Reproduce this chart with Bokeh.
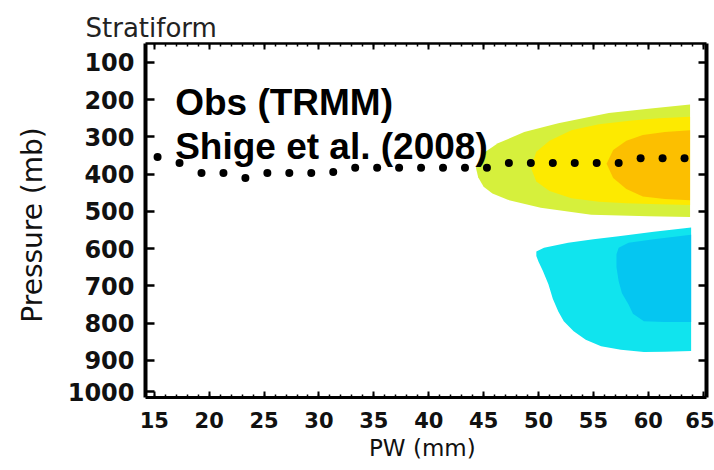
from bokeh.plotting import figure
from bokeh.models import Range1d, LinearAxis, FixedTicker, Label, CustomLabelingPolicy
from bokeh.embed import file_html
from bokeh.resources import INLINE

# Axis ticks
pw_ticks = [15, 20, 25, 30, 35, 40, 45, 50, 55, 60, 65]
pw_minor = list(range(15, 66))
p_ticks = [100, 200, 300, 400, 500, 600, 700, 800, 900, 985]
p_tick_labels = ["100", "200", "300", "400", "500", "600", "700", "800", "900", "1000"]

# Level of the heating peak in each PW bin (dotted curve)
dot_pw = [13.3, 15.3, 17.3, 19.3, 21.3, 23.3, 25.3, 27.3, 29.3, 31.3, 33.3, 35.3, 37.3,
          39.3, 41.3, 43.3, 45.3, 47.3, 49.3, 51.3, 53.3, 55.3, 57.3, 59.3, 61.3, 63.3]
dot_p = [343, 354, 370, 397, 397, 410, 397, 397, 397, 394, 383, 383, 383,
         383, 383, 383, 383, 370, 370, 370, 370, 370, 370, 357, 357, 357]

# Heating contours (outer -> inner)
heat1_pw = [44.3, 44.6, 45.0, 46.3, 48.7, 51.8, 56.4, 60.0, 63.8,
            63.8, 60.0, 54.8, 50.2, 47.2, 45.8, 45.0, 44.5]
heat1_p = [383, 360, 343, 317, 287, 263, 236, 224, 213,
           515, 513, 509, 490, 469, 452, 434, 408]
heat2_pw = [49.3, 49.8, 51.0, 53.0, 55.5, 58.5, 61.0, 63.8,
            63.8, 61.0, 58.0, 55.5, 53.0, 51.0, 49.8]
heat2_p = [383, 340, 310, 282, 266, 256, 250, 246,
           483, 481, 478, 474, 465, 445, 420]
heat3_pw = [56.2, 56.8, 58.0, 59.5, 61.5, 63.8,
            63.8, 61.5, 59.5, 58.0, 56.8]
heat3_p = [372, 335, 310, 295, 287, 282,
           470, 467, 460, 440, 410]

# Cooling contours (outer -> inner)
cool1_pw = [49.8, 50.5, 52.7, 55.0, 57.3, 60.5, 63.9,
            63.9, 61.5, 59.6, 57.5, 55.7, 54.3, 53.2, 52.3, 51.8, 51.3, 50.9, 50.4, 50.0, 49.8]
cool1_p = [608, 598, 584, 575, 567, 555, 543,
           875, 877, 878, 872, 862, 845, 822, 795, 769, 735, 696, 660, 635, 620]
cool2_pw = [57.3, 58.2, 60.5, 63.9,
            63.9, 61.5, 59.6, 58.6, 58.2, 57.6, 57.3, 57.1, 57.1]
cool2_p = [598, 584, 575, 563,
           797, 797, 795, 775, 750, 720, 688, 650, 615]

heat_colors = ["#d6f03c", "#fdea00", "#fcbf00"]
cool_colors = ["#10e4ee", "#05c6f1"]

p = figure(width=714, height=470, output_backend="svg", toolbar_location=None,
           x_range=Range1d(14.2, 65.3), y_range=Range1d(1000, 49),
           min_border_left=145, min_border_right=8, min_border_top=43, min_border_bottom=73)
p.outline_line_color = None
p.grid.visible = False
p.background_fill_color = "white"

for xs, ys, c in zip([heat1_pw, heat2_pw, heat3_pw], [heat1_p, heat2_p, heat3_p], heat_colors):
    p.patch(xs, ys, fill_color=c, line_color=None)
for xs, ys, c in zip([cool1_pw, cool2_pw], [cool1_p, cool2_p], cool_colors):
    p.patch(xs, ys, fill_color=c, line_color=None)

p.scatter(dot_pw, dot_p, size=8, fill_color="black", line_color=None)

p.add_layout(Label(x=16.9, y=207, text="Obs (TRMM)", text_font="Liberation Sans",
                   text_font_style="bold", text_font_size="37px", text_color="black",
                   text_baseline="alphabetic"))
p.add_layout(Label(x=16.9, y=327, text="Shige et al. (2008)", text_font="Liberation Sans",
                   text_font_style="bold", text_font_size="37px", text_color="black",
                   text_baseline="alphabetic"))

# Bottom axis
xa = p.xaxis[0]
xa.ticker = FixedTicker(ticks=pw_ticks, minor_ticks=pw_minor)
xa.axis_label = "PW  (mm)"
xa.axis_label_text_font = "DejaVu Sans"
xa.axis_label_text_font_size = "23px"
xa.axis_label_text_font_style = "normal"
xa.axis_label_text_color = "#111111"
xa.axis_label_standoff = 4
xa.major_label_text_font = "DejaVu Sans"
xa.major_label_text_font_size = "21px"
xa.major_label_text_font_style = "bold"
xa.major_label_text_color = "#111111"
xa.major_label_standoff = 14
xa.axis_line_width = 3
xa.major_tick_in = 6
xa.major_tick_out = 0
xa.minor_tick_in = 3
xa.minor_tick_out = 0
xa.major_tick_line_width = 2
xa.minor_tick_line_width = 1.5

# Left axis
ya = p.yaxis[0]
ya.ticker = FixedTicker(ticks=p_ticks, minor_ticks=[])
ya.major_label_overrides = {t: s for t, s in zip(p_ticks, p_tick_labels)}
ya.axis_label = "Pressure  (mb)"
ya.axis_label_text_font = "DejaVu Sans"
ya.axis_label_text_font_size = "28px"
ya.axis_label_text_font_style = "normal"
ya.axis_label_text_color = "#111111"
ya.axis_label_standoff = 16
ya.major_label_text_font = "DejaVu Sans"
ya.major_label_text_font_size = "24px"
ya.major_label_text_font_style = "bold"
ya.major_label_text_color = "#111111"
ya.major_label_standoff = 11
ya.axis_line_width = 4
ya.major_tick_in = 9
ya.major_tick_out = 0
ya.major_tick_line_width = 2.5

# Right and top frame axes: ticks only, no labels
ra = LinearAxis(ticker=FixedTicker(ticks=p_ticks[:-1], minor_ticks=[]),
                major_label_policy=CustomLabelingPolicy(code="return []"),
                major_label_text_font_size="0px", major_label_standoff=0,
                axis_line_width=4, major_tick_in=8, major_tick_out=0,
                major_tick_line_width=2.5)
p.add_layout(ra, "right")
ta = LinearAxis(ticker=FixedTicker(ticks=pw_ticks, minor_ticks=pw_minor),
                major_label_policy=CustomLabelingPolicy(code="return []"),
                major_label_text_font_size="0px", major_label_standoff=0,
                axis_line_width=2.5, major_tick_in=6, major_tick_out=0,
                minor_tick_in=3, minor_tick_out=0,
                major_tick_line_width=2, minor_tick_line_width=1.5)
p.add_layout(ta, "above")

p.title.text = "Stratiform"
p.title.align = "left"
p.title.offset = -60
p.title.text_font = "DejaVu Sans"
p.title.text_font_size = "26px"
p.title.text_font_style = "normal"
p.title.text_color = "#222222"
p.title.standoff = 1

open("out.html", "w").write(file_html(p, INLINE))
